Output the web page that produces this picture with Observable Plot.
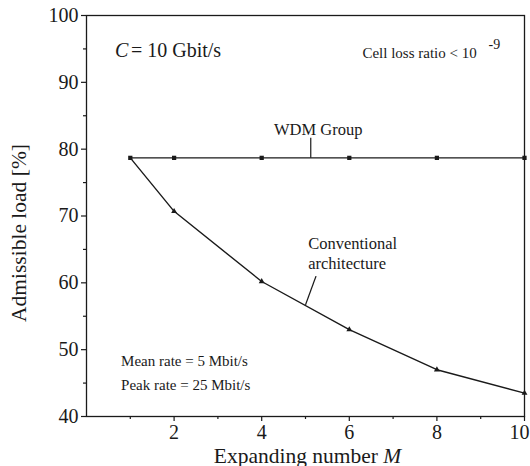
<!DOCTYPE html>
<html>
<head>
<meta charset="utf-8">
<script src="https://cdn.jsdelivr.net/npm/d3@7"></script>
<script src="https://cdn.jsdelivr.net/npm/@observablehq/plot@0.6"></script>
<style>
  html, body { margin: 0; padding: 0; background: #fff; }
  #chart svg, #chart svg text { font-family: "Liberation Serif", "Times New Roman", Times, serif !important; }
</style>
</head>
<body>
<div id="chart"></div>
<script>
// Data
const expandingM = [1, 2, 4, 6, 8, 10];
const wdmGroup = [78.7, 78.7, 78.7, 78.7, 78.7, 78.7];
const conventional = [78.7, 70.7, 60.2, 53.0, 47.0, 43.5];
const xTicks = [2, 4, 6, 8, 10];
const xMinorTicks = [1, 3, 5, 7, 9];
const yTicks = [40, 50, 60, 70, 80, 90, 100];
const yMinorTicks = [45, 55, 65, 75, 85, 95];

const wdmRows = expandingM.map((m, i) => ({m, v: wdmGroup[i]}));
const convRows = expandingM.map((m, i) => ({m, v: conventional[i]}));

const ink = "#1a1a1a";
const font = "Liberation Serif";

const plot = Plot.plot({
  width: 530,
  height: 466,
  marginLeft: 86,
  marginRight: 6,
  marginTop: 15,
  marginBottom: 50,
  style: "font-family: 'Liberation Serif', serif; background: #fff; color: #1a1a1a;",
  x: {domain: [0, 10]},
  y: {domain: [40, 100]},
  marks: [
    Plot.axisX({ticks: xTicks, tickSize: 5, tickPadding: 3, fontSize: 20, fontFamily: font, label: "Expanding number M", labelAnchor: "center", labelOffset: 46, labelArrow: "none", stroke: ink, strokeWidth: 1.2}),
    Plot.axisX({ticks: xMinorTicks, tickSize: 3, text: null, label: null, stroke: ink, strokeWidth: 1.2}),
    Plot.axisY({ticks: yTicks, tickSize: 5, tickPadding: 3, fontSize: 20, fontFamily: font, label: "Admissible load [%]", labelAnchor: "center", labelOffset: 76, labelArrow: "none", stroke: ink, strokeWidth: 1.2}),
    Plot.axisY({ticks: yMinorTicks, tickSize: 3, text: null, label: null, stroke: ink, strokeWidth: 1.2}),
    Plot.frame({stroke: ink, strokeWidth: 1.3}),
    Plot.line(wdmRows, {x: "m", y: "v", stroke: ink, strokeWidth: 1.3}),
    Plot.line(convRows, {x: "m", y: "v", stroke: ink, strokeWidth: 1.4}),
    Plot.dot(wdmRows, {x: "m", y: "v", symbol: "square", r: 2.4, fill: ink, stroke: "none"}),
    Plot.dot(convRows.slice(1), {x: "m", y: "v", symbol: "triangle", r: 2.2, fill: ink, stroke: "none"}),
    // leader lines
    Plot.link([{x1: 5.12, y1: 81.7, x2: 5.12, y2: 78.7}], {x1: "x1", y1: "y1", x2: "x2", y2: "y2", stroke: ink, strokeWidth: 1.2}),
    Plot.link([{x1: 5.24, y1: 61.0, x2: 5.0, y2: 56.7}], {x1: "x1", y1: "y1", x2: "x2", y2: "y2", stroke: ink, strokeWidth: 1.3}),
    // annotations
    Plot.text(["C"], {x: 0.65, y: 93.8, text: d => d, textAnchor: "start", lineAnchor: "bottom", fontSize: 20, fontFamily: font, fontStyle: "italic", fill: ink}),
    Plot.text(["= 10 Gbit/s"], {x: 0.65, y: 93.8, dx: 16, text: d => d, textAnchor: "start", lineAnchor: "bottom", fontSize: 20, fontFamily: font, fill: ink}),
    Plot.text(["Cell loss ratio < 10"], {x: 6.3, y: 93.6, text: d => d, textAnchor: "start", lineAnchor: "bottom", fontSize: 15, fontFamily: font, fill: ink}),
    Plot.text(["-9"], {x: 9.18, y: 95.0, text: d => d, textAnchor: "start", lineAnchor: "bottom", fontSize: 14, fontFamily: font, fill: ink}),
    Plot.text(["WDM Group"], {x: 5.29, y: 82.1, text: d => d, textAnchor: "middle", lineAnchor: "bottom", fontSize: 16.5, fontFamily: font, fill: ink}),
    Plot.text(["Conventional"], {x: 5.06, y: 65.0, text: d => d, textAnchor: "start", lineAnchor: "bottom", fontSize: 16.5, fontFamily: font, fill: ink}),
    Plot.text(["architecture"], {x: 5.06, y: 62.0, text: d => d, textAnchor: "start", lineAnchor: "bottom", fontSize: 16.5, fontFamily: font, fill: ink}),
    Plot.text(["Mean rate = 5 Mbit/s"], {x: 0.79, y: 47.6, text: d => d, textAnchor: "start", lineAnchor: "bottom", fontSize: 15, fontFamily: font, fill: ink}),
    Plot.text(["Peak rate = 25 Mbit/s"], {x: 0.79, y: 43.9, text: d => d, textAnchor: "start", lineAnchor: "bottom", fontSize: 15, fontFamily: font, fill: ink})
  ]
});

const svg = d3.select(plot);
// italic M in x-axis label, slightly larger labels
svg.selectAll('g[aria-label="x-axis label"] text').each(function () {
  const t = d3.select(this);
  t.attr("font-size", 21.5).attr("dx", 2);
  t.text("Expanding number ");
  t.append("tspan").attr("font-style", "italic").text("M");
});
svg.selectAll('g[aria-label="y-axis label"] text').attr("font-size", 21.5).attr("dx", -17);
// keep the last x tick label inside the picture
svg.selectAll('g[aria-label="x-axis tick label"] text')
  .filter(function () { return this.textContent === "10"; })
  .attr("dx", -5);

document.getElementById("chart").appendChild(plot);
</script>
</body>
</html>
